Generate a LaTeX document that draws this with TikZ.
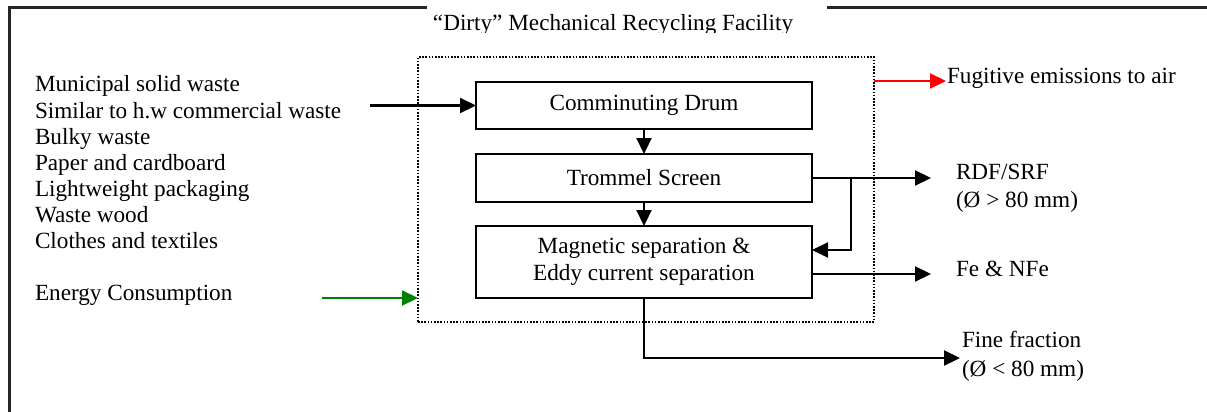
\documentclass[tikz,border=0pt]{standalone}
\usepackage{fontspec}
\setmainfont{Liberation Serif}
\usetikzlibrary{arrows.meta}
\definecolor{energygreen}{RGB}{0,128,0}
\tikzset{
  txt/.style={inner sep=0pt, outer sep=0pt, anchor=base west, font=\fontsize{23.2pt}{27pt}\selectfont},
  stagebox/.style={draw, line width=2.6pt, minimum width=336pt, inner sep=0pt, outer sep=0pt,
                   align=center, font=\fontsize{23.2pt}{27pt}\selectfont},
  flow/.style={line width=2.2pt, -{Triangle[length=16pt,width=15pt]}},
  frame/.style={line width=3pt, draw=black!85},
  facility/.style={draw, line width=1.8pt, dash pattern=on 1.6pt off 1.6pt,
                   minimum width=456pt, minimum height=265pt, inner sep=0pt, outer sep=0pt}
}
\begin{document}
\begin{tikzpicture}[x=1pt,y=-1pt]
\useasboundingbox (0,0) rectangle (1207,412);

% outer frame with the gap for the title
\draw[frame] (9,412) -- (9,8) -- (427,8);
\draw[frame] (827,8) -- (1207,8);
\begin{scope}
  \clip (427,9.6) rectangle (827,33);
  \node[txt, anchor=base] (title) at (613,30.6) {“Dirty” Mechanical Recycling Facility};
\end{scope}

% facility boundary
\node[facility] (fac) at (646,189.5) {};

% processing stages
\node[stagebox, minimum height=47pt] (drum) at (644,105.5) {Comminuting Drum};
\node[stagebox, minimum height=48pt] (trommel) at (644,178) {Trommel Screen};
\node[stagebox, minimum height=72pt] (mag) at (644,262) {Magnetic separation \&\\Eddy current separation};

% input materials
\node[txt] (in1) at (35,92)  {Municipal solid waste};
\node[txt] (in2) at (35,118) {Similar to h.w commercial waste};
\node[txt] (in3) at (35,144) {Bulky waste};
\node[txt] (in4) at (35,170) {Paper and cardboard};
\node[txt] (in5) at (35,196) {Lightweight packaging};
\node[txt] (in6) at (35,222) {Waste wood};
\node[txt] (in7) at (35,248) {Clothes and textiles};
\node[txt] (energy) at (35,300) {Energy Consumption};

% outputs
\node[txt] (fug) at (947,83) {Fugitive emissions to air};
\node[txt] (rdf) at (956,179) {RDF/SRF};
\node[txt] (rdfsize) at (956,207) {(Ø > 80 mm)};
\node[txt] (fe) at (956,276) {Fe \& NFe};
\node[txt] (fine) at (962,347) {Fine fraction};
\node[txt] (finesize) at (962,376) {(Ø < 80 mm)};

% connector end points
\coordinate (inA) at (370,105.5);
\coordinate (enA) at (322,298);
\coordinate (fugT) at (946,81);
\coordinate (rdfT) at (931,178);
\coordinate (br) at (851,178);
\coordinate (feT) at (931,274);
\coordinate (fineT) at (960,358);

% flows
\draw[flow] (inA) -- (drum.west);
\draw[flow] (drum.south) -- (trommel.north);
\draw[flow] (trommel.south) -- (mag.north);
\draw[flow] (trommel.east |- rdfT) -- (rdfT);
\draw[flow] (br) |- ([yshift=12pt]mag.east);
\draw[flow] ([yshift=-12pt]mag.east) -- (feT);
\draw[flow] (mag.south) |- (fineT);
\draw[flow, red] (fac.east |- fugT) -- (fugT);
\draw[flow, energygreen] (enA) -- (fac.west |- enA);
\end{tikzpicture}
\end{document}
